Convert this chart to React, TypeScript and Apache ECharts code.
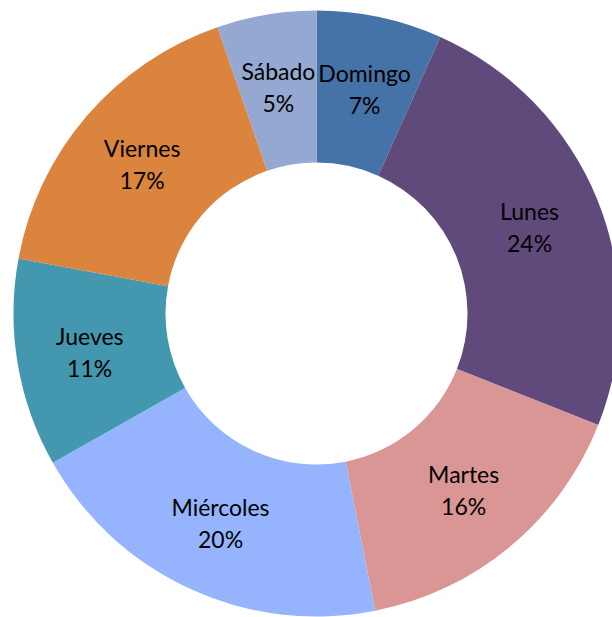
import React, { useEffect, useRef } from "react";
import * as echarts from "echarts";

const categories = ["Domingo", "Lunes", "Martes", "Miércoles", "Jueves", "Viernes", "Sábado"];
const values = [6.7, 24.3, 15.9, 19.9, 11.1, 16.8, 5.3];
const colors = ["#4573A8", "#604A7B", "#D99694", "#95B4FD", "#4397AF", "#DB843D", "#95A8D1"];

export default function App() {
  const ref = useRef<HTMLDivElement>(null);
  useEffect(() => {
    if (!ref.current) return;
    const chart = echarts.init(ref.current, undefined, { renderer: "svg" });
    chart.setOption({
      animation: false,
      backgroundColor: "#ffffff",
      series: [
        {
          type: "pie",
          center: [316.5, 313.5],
          radius: [151, 303],
          startAngle: 90,
          clockwise: true,
          data: categories.map((c, i) => ({ name: c, value: values[i], itemStyle: { color: colors[i] } })),
          label: {
            show: true,
            position: "inside",
            color: "#000000",
            fontSize: 23,
            lineHeight: 32,
            fontFamily: "Lato, 'Open Sans', sans-serif",
            formatter: (p: any) => `${p.name}\n${Math.round(p.percent)}%`,
          },
          labelLine: { show: false },
          emphasis: { disabled: true },
        },
      ],
    });
    return () => chart.dispose();
  }, []);
  return (
    <div
      ref={ref}
      style={{ position: "fixed", left: 0, top: 0, width: 612, height: 617 }}
    />
  );
}
